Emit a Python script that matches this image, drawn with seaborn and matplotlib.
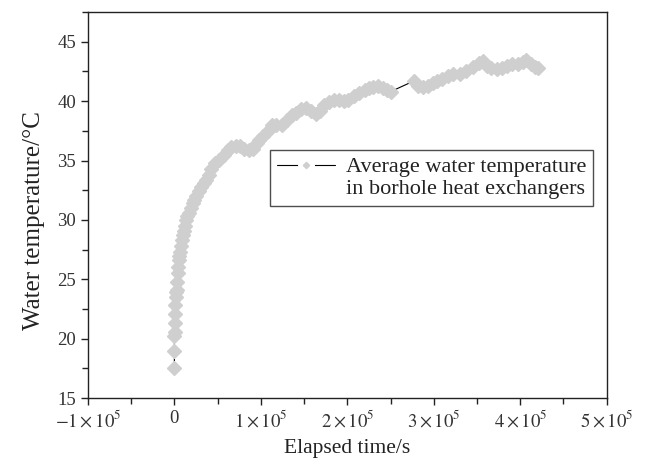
import numpy as np
import pandas as pd
import seaborn as sns
import matplotlib.pyplot as plt
from matplotlib.lines import Line2D
from matplotlib.legend_handler import HandlerTuple
from matplotlib.ticker import FixedLocator, FixedFormatter, MultipleLocator

# elapsed time (units of 1e5 s) and average water temperature (deg C)
time_e5 = [0.000, 0.000, 0.001, 0.002, 0.004, 0.006, 0.010, 0.015, 0.020, 0.027,
           0.032, 0.038, 0.044, 0.050, 0.058, 0.066, 0.077, 0.089, 0.100, 0.110,
           0.120, 0.135, 0.150, 0.170, 0.190, 0.210, 0.230, 0.250, 0.280, 0.310,
           0.340, 0.370, 0.395, 0.420, 0.470, 0.520, 0.570, 0.620, 0.660, 0.710,
           0.760, 0.810, 0.860, 0.910, 0.960, 0.980, 1.030, 1.080, 1.130, 1.180,
           1.240, 1.300, 1.360, 1.410, 1.470, 1.520, 1.580, 1.640, 1.680, 1.730,
           1.790, 1.850, 1.900, 1.960, 2.010, 2.080, 2.140, 2.200, 2.250, 2.300,
           2.360, 2.410, 2.460, 2.500, 2.770, 2.820, 2.870, 2.930, 2.990, 3.040,
           3.100, 3.160, 3.220, 3.300, 3.370, 3.450, 3.520, 3.570, 3.620, 3.660,
           3.730, 3.790, 3.850, 3.910, 3.970, 4.030, 4.070, 4.120, 4.170, 4.200]
temp = [17.5, 19.0, 20.2, 20.6, 21.3, 22.1, 22.8, 23.5, 23.9, 24.1,
        24.8, 25.5, 26.0, 26.6, 27.0, 27.3, 27.8, 28.3, 28.7, 29.1,
        29.5, 30.0, 30.3, 30.6, 31.0, 31.4, 31.7, 32.0, 32.4, 32.8,
        33.1, 33.4, 33.8, 34.3, 34.8, 35.05, 35.5, 35.9, 36.1, 36.2,
        36.2, 36.0, 35.9, 36.0, 36.5, 36.7, 37.1, 37.5, 38.0, 38.0,
        38.0, 38.4, 38.8, 39.0, 39.3, 39.4, 39.2, 38.9, 39.2, 39.7,
        39.9, 40.1, 40.1, 40.0, 40.1, 40.4, 40.7, 40.9, 41.1, 41.2,
        41.3, 41.1, 40.9, 40.8, 41.7, 41.3, 41.2, 41.3, 41.5, 41.7,
        41.9, 42.1, 42.3, 42.3, 42.5, 42.9, 43.2, 43.4, 43.0, 42.8,
        42.7, 42.8, 43.0, 43.1, 43.1, 43.3, 43.5, 43.1, 42.9, 42.8]

xticks = [-1e5, 0, 1e5, 2e5, 3e5, 4e5, 5e5]
xticklabels = [r'$-1\times10^5$', '0', r'$1\times10^5$', r'$2\times10^5$',
               r'$3\times10^5$', r'$4\times10^5$', r'$5\times10^5$']
legend_lines = ['Average water temperature', 'in borhole heat exchangers']

df = pd.DataFrame({'t': np.array(time_e5) * 1e5, 'T': temp})

sns.set_style('ticks')
plt.rcParams['font.family'] = ['Liberation Serif', 'DejaVu Serif']
plt.rcParams['mathtext.fontset'] = 'stix'

fig = plt.figure(figsize=(6.51, 4.65), dpi=100)
ax = fig.add_axes([0.135, 0.144, 0.797, 0.830])

grey = '#cfcfcf'
sns.lineplot(data=df, x='t', y='T', ax=ax, estimator=None, sort=False,
             color='black', lw=0.8, marker='D', markersize=7,
             markerfacecolor=grey, markeredgecolor=grey, markeredgewidth=1)

ax.set_xlim(-1e5, 5e5)
ax.set_ylim(15, 47.5)
ax.xaxis.set_major_locator(FixedLocator(xticks))
ax.xaxis.set_major_formatter(FixedFormatter(xticklabels))
ax.xaxis.set_minor_locator(MultipleLocator(0.5e5))
ax.yaxis.set_major_locator(MultipleLocator(5))
ax.yaxis.set_minor_locator(MultipleLocator(2.5))
ax.tick_params(which='major', direction='out', length=5, width=1,
               labelsize=13.5, colors='#222222', labelcolor='#333333')
ax.tick_params(which='minor', direction='out', length=4, width=1, colors='#222222')
for s in ax.spines.values():
    s.set_linewidth(1)
    s.set_color('#222222')

ax.set_xlabel('Elapsed time/s', fontsize=15.5, color='#222222', labelpad=6)
ax.set_ylabel('Water temperature/°C', fontsize=18, color='#222222')
ax.yaxis.set_label_coords(-0.082, 0.461)

h_line = Line2D([], [], color='black', lw=0.8, marker='D', markersize=8,
                markerfacecolor='white', markeredgecolor='white')
h_dot = Line2D([], [], ls='none', marker='D', markersize=3.2,
               markerfacecolor=grey, markeredgecolor=grey)
h_blank = Line2D([], [], color='none', lw=0)
leg = ax.legend([(h_line, h_dot), h_blank], legend_lines, loc='upper right',
                handler_map={tuple: HandlerTuple(ndivide=1)},
                bbox_to_anchor=(0.973, 0.642), borderaxespad=0, fancybox=False,
                frameon=True, edgecolor='#222222', fontsize=16, handlelength=2.6,
                labelspacing=0.05, borderpad=0.3, handletextpad=0.5)
leg.get_frame().set_linewidth(1)
for t in leg.get_texts():
    t.set_color('#222222')

fig.savefig('out.png', dpi=100)
